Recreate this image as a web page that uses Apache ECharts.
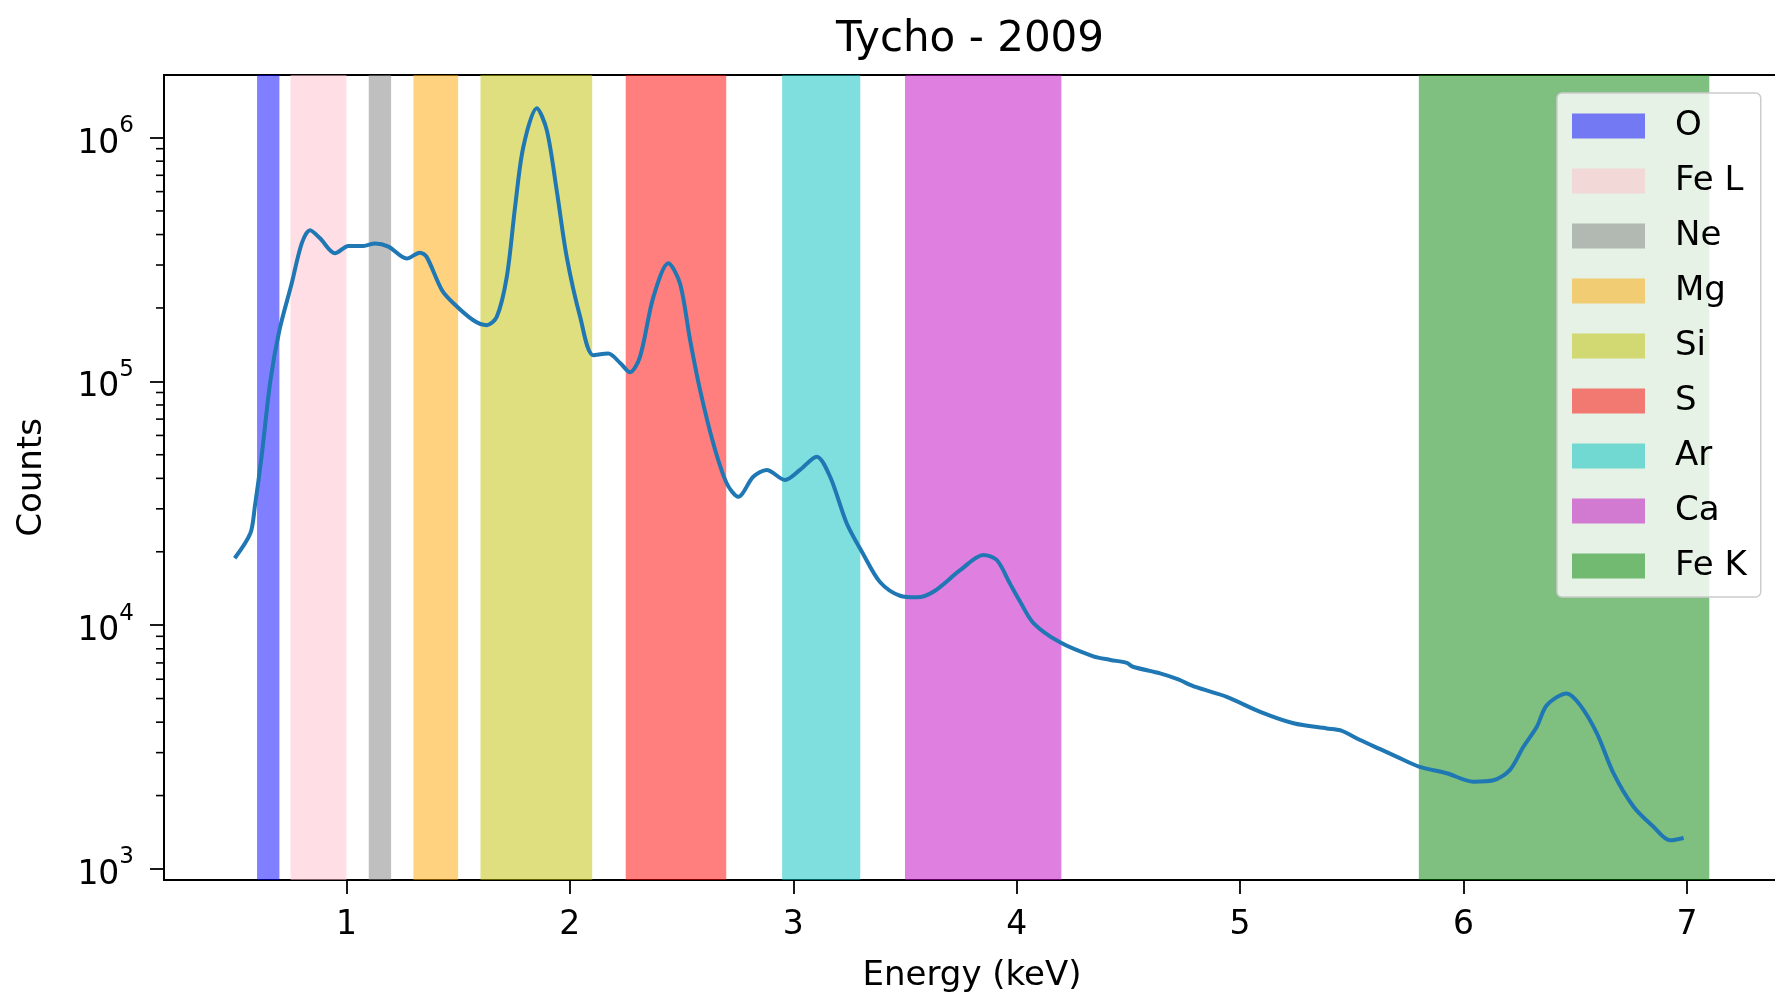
<!DOCTYPE html>
<html>
<head>
<meta charset="utf-8">
<title>Tycho - 2009</title>
<script src="https://cdn.jsdelivr.net/npm/echarts@6/dist/echarts.min.js"></script>
<style>
  html, body { margin: 0; padding: 0; background: #fff; }
  #main { width: 1775px; height: 995px; }
</style>
</head>
<body>
<div id="main"></div>
<script>
// spectrum: energy (keV) and counts
const energy = [0.50, 0.57, 0.59, 0.62, 0.66, 0.70, 0.755, 0.80, 0.837, 0.882, 0.949, 1.009, 1.076, 1.128, 1.188,
  1.27, 1.329, 1.359, 1.427, 1.479, 1.568, 1.628, 1.673, 1.718, 1.755, 1.792, 1.852, 1.897, 1.941, 1.986,
  2.046, 2.105, 2.172, 2.225, 2.269, 2.314, 2.374, 2.441, 2.493, 2.538, 2.583, 2.642, 2.702, 2.754, 2.821,
  2.881, 2.963, 3.030, 3.105, 3.165, 3.239, 3.314, 3.389, 3.478, 3.553, 3.627, 3.747, 3.851, 3.911, 3.970,
  4.015, 4.075, 4.194, 4.343, 4.42, 4.493, 4.52, 4.642, 4.72, 4.80, 4.94, 5.09, 5.239, 5.388, 5.45, 5.537, 5.627, 5.70, 5.80,
  5.925, 6.044, 6.134, 6.208, 6.268, 6.328, 6.373, 6.462, 6.522, 6.597, 6.671, 6.761, 6.850, 6.925, 6.985];
const counts = [1.88e4, 2.38e4, 3.06e4, 4.9e4, 1.01e5, 1.62e5, 2.52e5, 3.68e5, 4.17e5, 3.86e5, 3.35e5, 3.59e5, 3.59e5, 3.68e5, 3.57e5,
  3.19e5, 3.37e5, 3.24e5, 2.37e5, 2.09e5, 1.78e5, 1.70e5, 1.84e5, 2.69e5, 5.2e5, 9.17e5, 1.32e6, 1.07e6, 6.09e5, 3.24e5,
  1.84e5, 1.28e5, 1.30e5, 1.19e5, 1.09e5, 1.26e5, 2.22e5, 3.05e5, 2.52e5, 1.48e5, 9.2e4, 5.57e4, 3.82e4, 3.36e4, 4.06e4,
  4.33e4, 3.94e4, 4.33e4, 4.91e4, 4.06e4, 2.62e4, 1.95e4, 1.5e4, 1.32e4, 1.30e4, 1.37e4, 1.68e4, 1.94e4, 1.85e4, 1.48e4,
  1.25e4, 1.02e4, 8.5e3, 7.45e3, 7.2e3, 7.0e3, 6.75e3, 6.34e3, 6.0e3, 5.58e3, 5.08e3, 4.41e3, 3.96e3, 3.77e3, 3.7e3, 3.38e3, 3.1e3, 2.89e3, 2.63e3,
  2.47e3, 2.28e3, 2.31e3, 2.55e3, 3.17e3, 3.83e3, 4.70e3, 5.25e3, 4.70e3, 3.6e3, 2.47e3, 1.80e3, 1.49e3, 1.31e3, 1.34e3];

// element bands
const bandNames = ['O', 'Fe L', 'Ne', 'Mg', 'Si', 'S', 'Ar', 'Ca', 'Fe K'];
const bandStart = [0.6, 0.75, 1.1, 1.3, 1.6, 2.25, 2.95, 3.5, 5.8];
const bandEnd = [0.7, 1.0, 1.2, 1.5, 2.1, 2.7, 3.3, 4.2, 7.1];
const bandColors = ['rgba(0,0,255,0.5)', 'rgba(255,192,203,0.5)', 'rgba(128,128,128,0.5)', 'rgba(255,165,0,0.5)',
  'rgba(191,191,0,0.5)', 'rgba(255,0,0,0.5)', 'rgba(0,191,191,0.5)', 'rgba(191,0,191,0.5)', 'rgba(0,128,0,0.5)'];

// y minor ticks (2..9 x 10^n)
const minorTicks = [];
[1e3, 1e4, 1e5, 1e6].forEach(function (d) {
  for (let k = 2; k <= 9; k++) if (d * k < 1.8e6) minorTicks.push(d * k);
});

const FONT = 'DejaVu Sans';
const X_MIN = 0.1835, X_MAX = 7.4165, Y_MIN = 901, Y_MAX = 1.805e6;

let myChart = echarts.init(document.getElementById('main'));

let series = bandNames.map(function (name, i) {
  return {
    name: name,
    type: 'custom',
    z: 1,
    silent: true,
    itemStyle: { color: bandColors[i] },
    encode: { x: [0, 1], y: 2 },
    data: [[bandStart[i], bandEnd[i], Y_MAX]],
    renderItem: function (params, api) {
      const cs = params.coordSys;
      const x0 = api.coord([api.value(0), Y_MAX])[0];
      const x1 = api.coord([api.value(1), Y_MAX])[0];
      return {
        type: 'rect',
        shape: { x: x0, y: cs.y, width: x1 - x0, height: cs.height },
        style: { fill: bandColors[i] }
      };
    }
  };
});

series.push({
  name: 'minor',
  type: 'custom',
  z: 5,
  silent: true,
  clip: false,
  encode: { x: 0, y: 1 },
  data: minorTicks.map(function (v) { return [X_MIN, v]; }),
  renderItem: function (params, api) {
    const p = api.coord([api.value(0), api.value(1)]);
    return {
      type: 'line',
      shape: { x1: p[0] - 8, y1: p[1], x2: p[0], y2: p[1] },
      style: { stroke: '#000', lineWidth: 1.6 }
    };
  }
});

series.push({
  name: 'spectrum',
  type: 'line',
  z: 4,
  smooth: 0.3,
  showSymbol: false,
  silent: true,
  lineStyle: { color: '#1f77b4', width: 4 },
  data: energy.map(function (e, i) { return [e, counts[i]]; })
});

let option = {
  animation: false,
  backgroundColor: '#fff',
  title: {
    text: 'Tycho - 2009',
    left: 970,
    top: 19,
    textAlign: 'center',
    padding: 0,
    textStyle: { fontFamily: FONT, fontSize: 42, fontWeight: 'normal', color: '#000' }
  },
  legend: {
    orient: 'vertical',
    left: 1557,
    top: 93,
    padding: [16, 14, 14, 15],
    itemWidth: 73,
    itemHeight: 25,
    itemGap: 21,
    icon: 'rect',
    selectedMode: false,
    backgroundColor: 'rgba(255,255,255,0.8)',
    borderColor: '#cccccc',
    borderWidth: 1.5,
    borderRadius: 5,
    data: bandNames,
    textStyle: { fontFamily: FONT, fontSize: 34, color: '#000', padding: [0, 0, 0, 25] }
  },
  grid: {
    left: 164, width: 1616, top: 75, bottom: 115,
    outerBoundsMode: 'none', containLabel: false,
    show: true, borderColor: '#000', borderWidth: 2, backgroundColor: 'transparent'
  },
  xAxis: {
    type: 'value',
    min: X_MIN,
    max: X_MAX,
    splitNumber: 7,
    name: 'Energy (keV)',
    nameLocation: 'middle',
    nameGap: 79,
    nameTextStyle: { fontFamily: FONT, fontSize: 34, color: '#000' },
    axisLine: { show: true, lineStyle: { color: '#000', width: 2 } },
    axisTick: { show: true, inside: false, length: 14, lineStyle: { color: '#000', width: 1.8 } },
    axisLabel: { showMinLabel: false, showMaxLabel: false, margin: 29, fontFamily: FONT, fontSize: 33, color: '#000' },
    splitLine: { show: false }
  },
  yAxis: {
    type: 'log',
    logBase: 10,
    min: Y_MIN,
    max: Y_MAX,
    name: 'Counts',
    nameLocation: 'middle',
    nameGap: 115,
    nameTextStyle: { fontFamily: FONT, fontSize: 34, color: '#000' },
    axisLine: { show: true, lineStyle: { color: '#000', width: 2 } },
    axisTick: { show: true, inside: false, length: 14, lineStyle: { color: '#000', width: 1.8 } },
    axisLabel: {
      showMinLabel: false,
      showMaxLabel: false,
      margin: 30,
      formatter: function (v) {
        const e = Math.round(Math.log10(v));
        return '{b|10}{e|' + e + '}';
      },
      rich: {
        b: { fontFamily: FONT, fontSize: 33, color: '#000', verticalAlign: 'bottom', lineHeight: 46 },
        e: { fontFamily: FONT, fontSize: 23, color: '#000', verticalAlign: 'top', lineHeight: 46 }
      }
    },
    splitLine: { show: false }
  },
  series: series
};

myChart.setOption(option);
window.addEventListener('resize', function () {
  myChart.resize();
});
</script>
</body>
</html>
